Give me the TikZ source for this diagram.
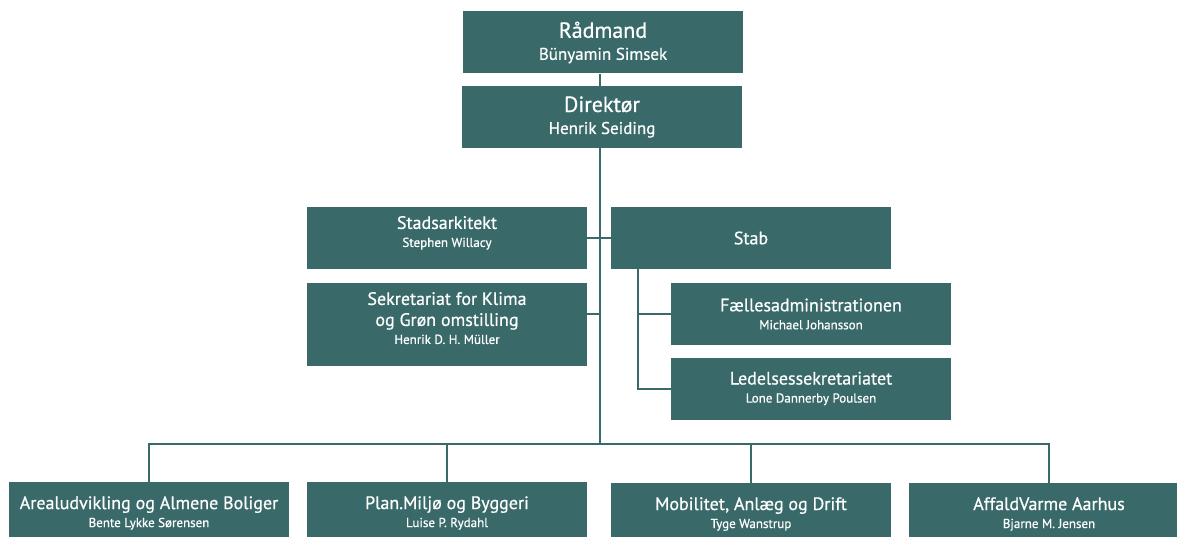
\documentclass[tikz,border=0pt]{standalone}
\usepackage{fontspec}
\setmainfont{PT Sans}[FakeBold=0.6]
\usetikzlibrary{positioning}
\definecolor{petrol}{HTML}{396A69}
\newcommand{\navn}[1]{{\fontsize{13}{15}\selectfont #1}}
\newcommand{\chefnavn}[1]{{\fontsize{17}{19}\selectfont #1}}
\tikzset{
  unit/.style   ={rectangle, fill=petrol, text=white, inner sep=0pt, align=center,
    minimum width=280pt, minimum height=62pt, font=\fontsize{18}{21}\selectfont},
  chief/.style  ={unit, font=\fontsize{22}{22}\selectfont},
  raised/.style ={text depth=13pt},
  link/.style   ={draw=petrol, line width=2pt}}

\begin{document}
\begin{tikzpicture}[x=1pt, y=-1pt]
\useasboundingbox (0,0) rectangle (1177,537);

% top of the chart
\node[chief] (raad) at (603,42.5) {Rådmand\\\chefnavn{Bünyamin Simsek}};
\node[chief] (dir)  at (602,117)  {Direktør\\\chefnavn{Henrik Seiding}};

% staff level
\node[unit, raised] (stads) at (447,238) {Stadsarkitekt\\[-3pt]\navn{Stephen Willacy}};
\node[unit] (stab)    at (751,238)   {Stab};
\node[unit, raised, minimum height=83pt] (klima) at (447,324.5)
  {Sekretariat for Klima\\og Grøn omstilling\\[-3pt]\navn{Henrik D. H. Müller}};
\node[unit] (faelles) at (811,314)   {Fællesadministrationen\\[-3pt]\navn{Michael Johansson}};
\node[unit] (ledelse) at (811,388.5) {Ledelsessekretariatet\\[-3pt]\navn{Lone Dannerby Poulsen}};

% departments
\node[unit] (areal)  at (149,513)  {Arealudvikling og Almene Boliger\\[-3pt]\navn{Bente Lykke Sørensen}};
\node[unit] (plan)   at (447,513)  {Plan.Miljø og Byggeri\\[-3pt]\navn{Luise P. Rydahl}};
\node[unit] (mobil)  at (751,514)  {Mobilitet, Anlæg og Drift\\[-3pt]\navn{Tyge Wanstrup}};
\node[unit] (affald) at (1049,514) {AffaldVarme Aarhus\\[-3pt]\navn{Bjarne M. Jensen}};

\coordinate (bus) at (600,444);
\coordinate (stabline) at (638,0);

% trunk
\draw[link] (raad.south -| bus) -- (dir.north -| bus);
\draw[link] (dir.south -| bus) -- (bus);
\draw[link] (stads.east) -- (stab.west);
\draw[link] (klima.east) ++(0,-10.5) -- (bus |- faelles.west);

% stab branch
\draw[link] (stab.south -| stabline) |- (ledelse.west);
\draw[link] (stabline |- faelles.west) -- (faelles.west);

% bus to departments
\draw[link] (areal.north) |- (bus) -| (affald.north);
\draw[link] (plan.north) -- (plan.north |- bus);
\draw[link] (mobil.north) -- (mobil.north |- bus);
\end{tikzpicture}
\end{document}
